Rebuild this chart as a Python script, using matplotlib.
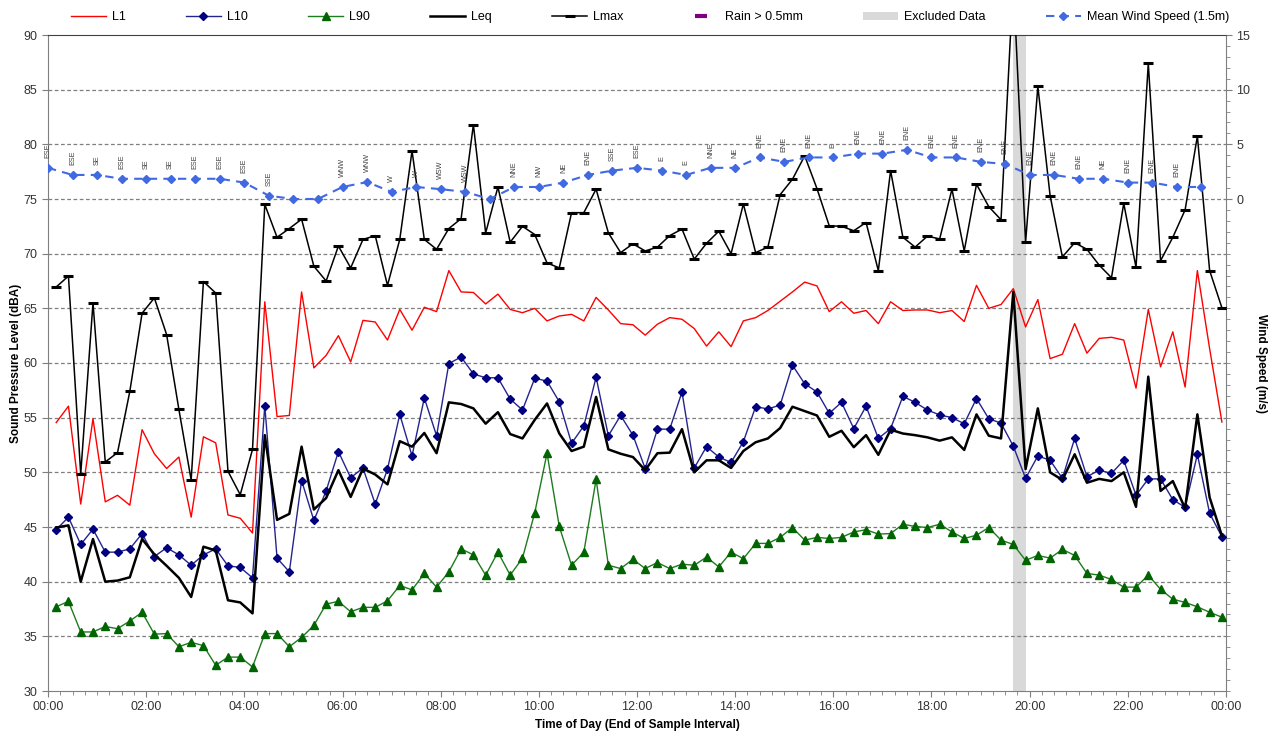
import numpy as np
import matplotlib
matplotlib.use("Agg")
import matplotlib.pyplot as plt
from matplotlib.lines import Line2D
from matplotlib.patches import Patch
from matplotlib.ticker import MultipleLocator

plt.rcParams['font.family'] = ['Liberation Sans', 'DejaVu Sans']

# sample end times (hours), 15-minute intervals ending hh:10, hh:25, ...
t_lvl = np.arange(96) * 0.25 + 10 / 60
# wind readings every 30 minutes
t_wind = np.arange(48) * 0.5

L1 = [54.55, 56.05, 47.1, 54.9, 47.3, 47.9, 47.0, 53.9, 51.7, 50.35,
      51.4, 45.9, 53.25, 52.7, 46.1, 45.8, 44.45, 65.6, 55.1, 55.2,
      66.5, 59.55, 60.7, 62.5, 60.1, 63.9, 63.75, 62.1, 64.9, 63.0,
      65.1, 64.7, 68.45, 66.5, 66.45, 65.4, 66.3, 64.9, 64.6, 65.0,
      63.85, 64.3, 64.45, 63.85, 66.0, 64.85, 63.6, 63.5, 62.55, 63.55,
      64.15, 64.0, 63.15, 61.55, 62.85, 61.5, 63.85, 64.15, 64.8, 65.65,
      66.5, 67.4, 67.05, 64.7, 65.6, 64.55, 64.8, 63.6, 65.6, 64.8,
      64.85, 64.85, 64.6, 64.8, 63.8, 67.1, 65.0, 65.35, 66.8, 63.3,
      65.8, 60.4, 60.8, 63.6, 60.9, 62.25, 62.35, 62.1, 57.7, 64.9,
      59.65, 62.85, 57.8, 68.45, 61.3, 54.6]

L10 = [44.75, 45.9, 43.4, 44.8, 42.7, 42.7, 43.0, 44.4, 42.3, 43.1,
       42.45, 41.5, 42.45, 43.0, 41.45, 41.3, 40.35, 56.1, 42.15, 40.9,
       49.25, 45.6, 48.3, 51.9, 49.5, 50.4, 47.1, 50.3, 55.3, 51.5,
       56.8, 53.35, 59.95, 60.55, 59.0, 58.65, 58.65, 56.7, 55.7, 58.6,
       58.35, 56.45, 52.65, 54.25, 58.7, 53.35, 55.2, 53.4, 50.35, 53.95,
       53.95, 57.35, 50.4, 52.35, 51.4, 50.9, 52.8, 56.0, 55.8, 56.15,
       59.8, 58.1, 57.35, 55.4, 56.4, 54.0, 56.05, 53.1, 54.0, 56.95,
       56.4, 55.7, 55.25, 55.0, 54.45, 56.75, 54.9, 54.5, 52.4, 49.45,
       51.5, 51.1, 49.45, 53.1, 49.6, 50.2, 49.9, 51.1, 47.9, 49.4,
       49.4, 47.5, 46.8, 51.65, 46.25, 44.1]

L90 = [37.7, 38.2, 35.4, 35.4, 35.9, 35.7, 36.4, 37.2, 35.2, 35.25,
       34.05, 34.45, 34.15, 32.35, 33.1, 33.1, 32.2, 35.25, 35.25, 34.05,
       34.9, 36.0, 37.95, 38.2, 37.25, 37.65, 37.65, 38.25, 39.65, 39.25,
       40.75, 39.5, 40.9, 43.0, 42.45, 40.6, 42.7, 40.6, 42.15, 46.3,
       51.75, 45.05, 41.5, 42.7, 49.35, 41.5, 41.2, 42.05, 41.2, 41.75,
       41.2, 41.6, 41.5, 42.25, 41.35, 42.7, 42.1, 43.5, 43.5, 44.05,
       44.95, 43.8, 44.05, 43.95, 44.05, 44.55, 44.75, 44.35, 44.4, 45.25,
       45.05, 44.95, 45.25, 44.55, 43.95, 44.25, 44.95, 43.8, 43.4, 41.95,
       42.4, 42.15, 42.95, 42.4, 40.75, 40.6, 40.2, 39.5, 39.5, 40.6,
       39.3, 38.4, 38.1, 37.7, 37.2, 36.75]

Leq = [44.95, 45.15, 40.0, 43.9, 40.0, 40.1, 40.4, 43.9, 42.5, 41.45,
       40.35, 38.6, 43.2, 42.85, 38.3, 38.1, 37.1, 53.4, 45.65, 46.2,
       52.35, 46.6, 47.65, 50.2, 47.75, 50.35, 49.8, 48.9, 52.85, 52.35,
       53.6, 51.75, 56.4, 56.25, 55.85, 54.45, 55.5, 53.5, 53.1, 54.8,
       56.3, 53.55, 51.95, 52.35, 56.9, 52.1, 51.7, 51.4, 50.2, 51.75,
       51.8, 53.95, 50.0, 51.1, 51.1, 50.4, 51.95, 52.75, 53.1, 54.05,
       56.0, 55.6, 55.2, 53.25, 53.8, 52.3, 53.4, 51.6, 53.9, 53.55,
       53.4, 53.2, 52.9, 53.2, 52.05, 55.3, 53.35, 53.1, 66.5, 50.3,
       55.85, 50.0, 49.3, 51.65, 49.05, 49.4, 49.2, 50.0, 46.85, 58.75,
       48.3, 49.2, 46.7, 55.3, 47.7, 44.2]

Lmax = [66.95, 67.95, 49.85, 65.5, 50.95, 51.8, 57.4, 64.55, 65.95, 62.6,
        55.75, 49.3, 67.45, 66.4, 50.1, 47.95, 52.1, 74.5, 71.5, 72.3,
        73.15, 68.85, 67.5, 70.7, 68.7, 71.3, 71.65, 67.1, 71.3, 79.4,
        71.3, 70.4, 72.3, 73.2, 81.8, 71.9, 76.1, 71.05, 72.5, 71.75,
        69.15, 68.7, 73.75, 73.75, 75.9, 71.9, 70.1, 70.9, 70.25, 70.6,
        71.65, 72.25, 69.5, 70.95, 72.05, 70.0, 74.55, 70.1, 70.6, 75.4,
        76.8, 78.95, 75.95, 72.55, 72.5, 72.1, 72.85, 68.45, 77.6, 71.5,
        70.6, 71.6, 71.35, 75.9, 70.25, 76.35, 74.3, 73.1, 95.0, 71.05,
        85.3, 75.3, 69.7, 71.0, 70.4, 68.95, 67.8, 74.6, 68.75, 87.4,
        69.35, 71.5, 74.0, 80.75, 68.45, 65.05]

wind = [2.85, 2.2, 2.2, 1.85, 1.85, 1.85, 1.85, 1.85, 1.5, 0.3,
        0.0, 0.0, 1.1, 1.55, 0.65, 1.1, 0.9, 0.65, 0.0, 1.1,
        1.1, 1.5, 2.2, 2.6, 2.85, 2.6, 2.2, 2.85, 2.85, 3.8,
        3.4, 3.8, 3.8, 4.15, 4.15, 4.5, 3.8, 3.8, 3.4, 3.2,
        2.2, 2.2, 1.85, 1.85, 1.5, 1.5, 1.1, 1.1]

wind_dir = ['ESE', 'ESE', 'SE', 'ESE', 'SE', 'SE', 'ESE', 'ESE', 'ESE', 'SSE',
            '', '', 'WNW', 'WNW', 'W', 'W', 'WSW', 'WSW', '', 'NNE',
            'NW', 'NE', 'ENE', 'SSE', 'ESE', 'E', 'E', 'NNE', 'NE', 'ENE',
            'ENE', 'ENE', 'E', 'ENE', 'ENE', 'ENE', 'ENE', 'ENE', 'ENE', 'ENE',
            'ENE', 'ENE', 'ENE', 'NE', 'ENE', 'ENE', 'ENE', '']

excluded = (19 + 40 / 60, 19 + 55 / 60)
tick_labels = ['00:00', '02:00', '04:00', '06:00', '08:00', '10:00', '12:00',
               '14:00', '16:00', '18:00', '20:00', '22:00', '00:00']

fig = plt.figure(figsize=(12.77, 7.37), dpi=100)
ax = fig.add_axes([48 / 1277, 1 - 691 / 737, 1178 / 1277, 656 / 737])

ax.axvspan(*excluded, color='#D9D9D9', lw=0, zorder=0.5)
for y in range(35, 90, 5):
    ax.axhline(y, color='#7F7F7F', lw=0.9, ls=(0, (3, 2)), zorder=1)

ax.plot(t_lvl, L1, color='#FF0000', lw=1.0, zorder=3)
ax.plot(t_lvl, L10, color='#24248F', lw=1.0, marker='D', ms=4.5,
        mfc='#000080', mec='#000080', zorder=3)
ax.plot(t_lvl, L90, color='#1E7B1E', lw=1.0, marker='^', ms=5.5,
        mfc='#006400', mec='#006400', zorder=3)
ax.plot(t_lvl, Leq, color='#000000', lw=1.8, zorder=4)
ax.plot(t_lvl, Lmax, color='#000000', lw=1.1, marker='_', ms=7, mew=2.2, zorder=4)

ax.set_xlim(0, 24)
ax.set_ylim(30, 90)
ax.set_xticks(np.arange(0, 25, 2))
ax.set_xticklabels(tick_labels)
ax.xaxis.set_minor_locator(MultipleLocator(0.25))
ax.set_yticks(range(30, 91, 5))
ax.tick_params(axis='both', labelsize=9, colors='#7F7F7F', labelcolor='#333333',
               direction='out', length=4)
ax.tick_params(axis='x', which='minor', length=3, colors='#7F7F7F')
for s in ['left', 'bottom', 'right']:
    ax.spines[s].set_color('#7F7F7F')
ax.spines['top'].set_color('#404040')
ax.set_ylabel('Sound Pressure Level (dBA)', fontsize=8.5, fontweight='bold', labelpad=1)
ax.set_xlabel('Time of Day (End of Sample Interval)', fontsize=8.5, fontweight='bold',
              labelpad=4)

ax2 = ax.twinx()
ax2.plot(t_wind, wind, color='#4169E1', lw=1.5, ls=(0, (4, 3)), marker='D', ms=4.5,
         mfc='#4169E1', mec='#4169E1', zorder=5)
for t, w, d in zip(t_wind, wind, wind_dir):
    if d:
        ax2.annotate(d, (t, w), xytext=(0, 7), textcoords='offset points',
                     rotation=90, ha='center', va='bottom', fontsize=5.2,
                     color='#404040')
ax2.set_ylim(-45, 15)
ax2.set_yticks([0, 5, 10, 15])
ax2.yaxis.set_minor_locator(MultipleLocator(1))
ax2.tick_params(axis='y', labelsize=9, colors='#7F7F7F', labelcolor='#333333',
                direction='out', length=4)
ax2.tick_params(axis='y', which='minor', length=3, colors='#7F7F7F')
for s in ax2.spines.values():
    s.set_visible(False)
ax2.set_ylabel('Wind Speed (m/s)', fontsize=8.5, fontweight='bold', rotation=270,
               labelpad=12)

handles = [
    Line2D([], [], color='#FF0000', lw=1.0),
    Line2D([], [], color='#24248F', lw=1.0, marker='D', ms=4.5, mfc='#000080', mec='#000080'),
    Line2D([], [], color='#1E7B1E', lw=1.0, marker='^', ms=5.5, mfc='#006400', mec='#006400'),
    Line2D([], [], color='#000000', lw=1.8),
    Line2D([], [], color='#000000', lw=1.1, marker='_', ms=7, mew=2.2),
    Line2D([], [], color='#800080', ls='none', marker='_', ms=8, mew=3),
    Patch(facecolor='#D9D9D9', edgecolor='none'),
    Line2D([], [], color='#4169E1', lw=1.5, ls=(0, (4, 3)), marker='D', ms=4.5),
]
labels = ['L1', 'L10', 'L90', 'Leq', 'Lmax', 'Rain > 0.5mm', 'Excluded Data',
          'Mean Wind Speed (1.5m)']
fig.legend(handles, labels, loc='upper center', bbox_to_anchor=(650 / 1277, 1.0),
           ncol=8, frameon=False, fontsize=9, handlelength=2.8, handletextpad=0.5,
           columnspacing=4.8)

fig.savefig('out.png', dpi=100)
